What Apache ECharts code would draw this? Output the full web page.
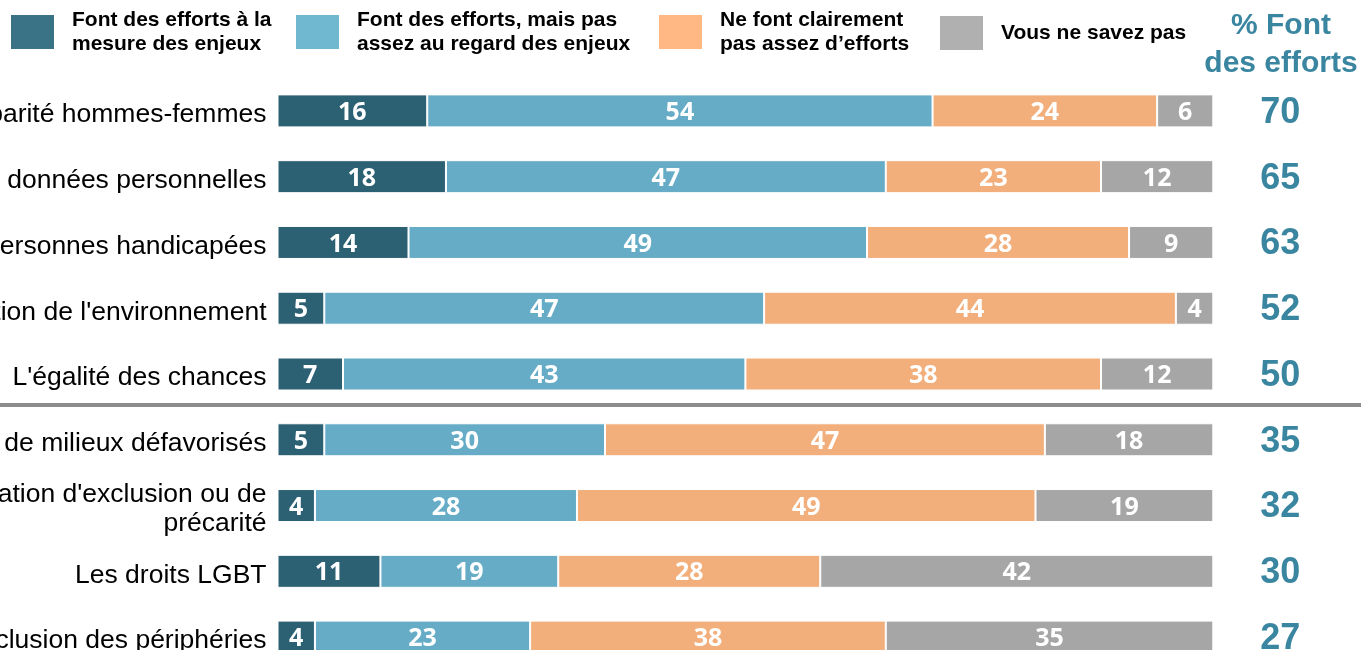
<!DOCTYPE html>
<html lang="fr">
<head>
<meta charset="utf-8">
<title>Efforts des entreprises</title>
<script src="https://cdn.jsdelivr.net/npm/echarts@6/dist/echarts.min.js"></script>
<style>
  html, body { margin: 0; padding: 0; background: #fff; }
  #chart { width: 1361px; height: 650px; }
</style>
</head>
<body>
<div id="chart"></div>
<script>
// Sujets évalués (de haut en bas)
const categories = [
  "La parité hommes-femmes",
  "La protection des données personnelles",
  "L'inclusion des personnes handicapées",
  "La protection de l'environnement",
  "L'égalité des chances",
  "L'inclusion des jeunes de milieux défavorisés",
  "L'inclusion des personnes en situation d'exclusion ou de\nprécarité",
  "Les droits LGBT",
  "L'inclusion des périphéries"
];

const seriesNames = [
  "Font des efforts à la\nmesure des enjeux",
  "Font des efforts, mais pas\nassez au regard des enjeux",
  "Ne font clairement\npas assez d\u2019efforts",
  "Vous ne savez pas"
];

// Répartition des réponses (%)
const aLaMesure     = [16, 18, 14, 5, 7, 5, 4, 11, 4];
const pasAssez      = [54, 47, 49, 47, 43, 30, 28, 19, 23];
const clairementPas = [24, 23, 28, 44, 38, 47, 49, 28, 38];
const neSaitPas     = [6, 12, 9, 4, 12, 18, 19, 42, 35];

// % Font des efforts
const effortTotals = [70, 65, 63, 52, 50, 35, 32, 30, 27];

const barColors    = ["#2C6073", "#66ACC6", "#F2AE7B", "#A6A6A6"];
const legendColors = ["#3A7286", "#70B8D0", "#FFB883", "#B0B0B0"];
const accent = "#3A86A0";

const chart = echarts.init(document.getElementById("chart"), null, { renderer: "canvas" });

const values = [aLaMesure, pasAssez, clairementPas, neSaitPas];

const series = values.map((data, i) => ({
  name: seriesNames[i],
  type: "bar",
  stack: "total",
  barWidth: 33,
  data: data,
  itemStyle: { color: barColors[i], borderColor: "#ffffff", borderWidth: 1 },
  label: {
    show: true,
    position: "inside",
    offset: [0, 2],
    color: "#ffffff",
    fontFamily: "Open Sans",
    fontWeight: "bold",
    fontSize: 25
  },
  emphasis: { disabled: true }
}));

// One legend per item so each can sit at its own place
const legendLefts = [9, 294, 657, 938];
const legendTops  = [8, 8, 8, 14];
const legends = seriesNames.map((name, i) => ({
  data: [{ name: name, icon: "rect", itemStyle: { color: legendColors[i] } }],
  left: legendLefts[i],
  top: legendTops[i],
  padding: 0,
  itemWidth: 45,
  itemHeight: 36,
  selectedMode: false,
  textStyle: {
    fontFamily: "Liberation Sans, Arial, sans-serif",
    fontWeight: "bold",
    fontSize: 21,
    lineHeight: 24,
    color: "#000",
    padding: [0, 0, 0, 12]
  }
}));

// A thin spacer line above each topic label sets the block a bit lower
// than the bar centre.
function lowered(text) {
  return "{gap| }\n" + text.split("\n").map((line) => "{t|" + line + "}").join("\n");
}

const labelFont = "Liberation Sans, Arial, sans-serif";

chart.setOption({
  animation: false,
  backgroundColor: "#ffffff",
  title: {
    text: "% Font\ndes efforts",
    left: 1276,
    top: 2,
    textAlign: "center",
    textStyle: {
      fontFamily: labelFont,
      fontWeight: "bold",
      fontSize: 30,
      lineHeight: 38,
      color: accent
    }
  },
  legend: legends,
  grid: {
    left: 277.5,
    top: 78,
    width: 935.8,
    height: 592,
    outerBoundsMode: "none"
  },
  xAxis: {
    type: "value",
    min: 0,
    max: 100,
    show: false
  },
  yAxis: [
    {
      type: "category",
      data: categories,
      inverse: true,
      axisLine: { show: false },
      axisTick: { show: false },
      axisLabel: {
        margin: 11,
        formatter: lowered,
        rich: {
          gap: { fontSize: 1, lineHeight: 8 },
          t: {
            fontFamily: labelFont,
            fontSize: 26.5,
            lineHeight: 29,
            color: "#000"
          }
        }
      }
    },
    {
      type: "category",
      data: effortTotals.map(String),
      inverse: true,
      position: "right",
      axisLine: { show: false },
      axisTick: { show: false },
      axisLabel: {
        margin: 67,
        align: "center",
        formatter: (v) => "{v|" + v + "}",
        rich: {
          v: {
            fontFamily: labelFont,
            fontWeight: "bold",
            fontSize: 36,
            padding: [4, 0, 0, 0],
            color: accent
          }
        }
      }
    }
  ],
  series: series
});

// Separator between the first five topics and the rest
const yA = chart.convertToPixel({ yAxisIndex: 0 }, categories[4]);
const yB = chart.convertToPixel({ yAxisIndex: 0 }, categories[5]);
const sepY = (yA + yB) / 2 - 2;
chart.setOption({
  graphic: [{
    type: "line",
    shape: { x1: 0, y1: sepY, x2: 1361, y2: sepY },
    style: { stroke: "#8C8C8C", lineWidth: 4 },
    silent: true
  }]
});
</script>
</body>
</html>
